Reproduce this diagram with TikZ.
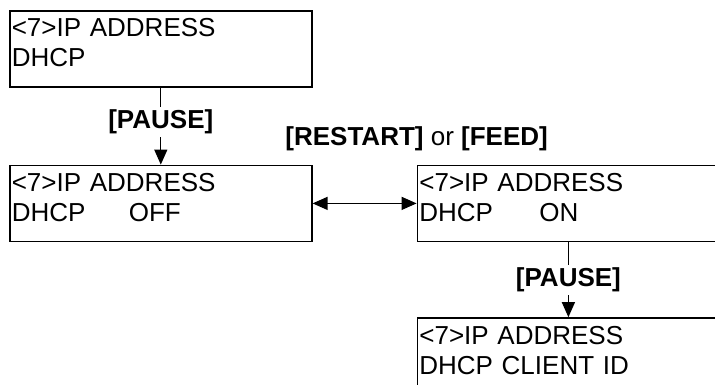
\documentclass[tikz,border=0pt]{standalone}
\usepackage{fontspec}
\setmainfont{Liberation Sans}
\usepackage{tikz}
\usetikzlibrary{arrows.meta,positioning}

\begin{document}
\begin{tikzpicture}[x=1pt, y=-1pt,
    lcd/.style={rectangle, draw=black, line width=1.6pt,
                minimum width=302pt, minimum height=76pt,
                text width=298pt, align=left, inner xsep=2pt, inner ysep=8pt,
                text height=18pt, text depth=42pt,
                font=\fontsize{26}{30}\selectfont},
    key/.style={font=\fontsize{26}{30}\selectfont\bfseries, fill=white, inner sep=3pt},
    arr/.style={-{Triangle[length=15pt,width=13pt]}, line width=1.3pt},
    darr/.style={{Triangle[length=15pt,width=13pt]}-{Triangle[length=15pt,width=13pt]}, line width=1.3pt},
  ]
    \useasboundingbox (0,0) rectangle (715,385);
    \node[lcd, anchor=north west] (p1) at (9,10) {<7>IP ADDRESS\\DHCP};
    \node[lcd, below=77pt of p1] (p2) {<7>IP ADDRESS\\\makebox[117pt][l]{DHCP}OFF};
    \node[lcd, right=104pt of p2] (p3) {<7>IP ADDRESS\\\makebox[120pt][l]{DHCP}ON};
    \node[lcd, below=75pt of p3] (p4) {<7>IP ADDRESS\\DHCP CLIENT ID};
    \draw[arr] (p1) -- node[key, pos=0.45] (k1) {[PAUSE]} (p2);
    \draw[arr] (p3) -- node[key] (k2) {[PAUSE]} (p4);
    \draw[darr] (p2) -- (p3);
    \node[key, inner sep=0pt, above=14pt of p3.north west] (k3)
      {[RESTART] {\mdseries or} [FEED]};
  \end{tikzpicture}
\end{document}
